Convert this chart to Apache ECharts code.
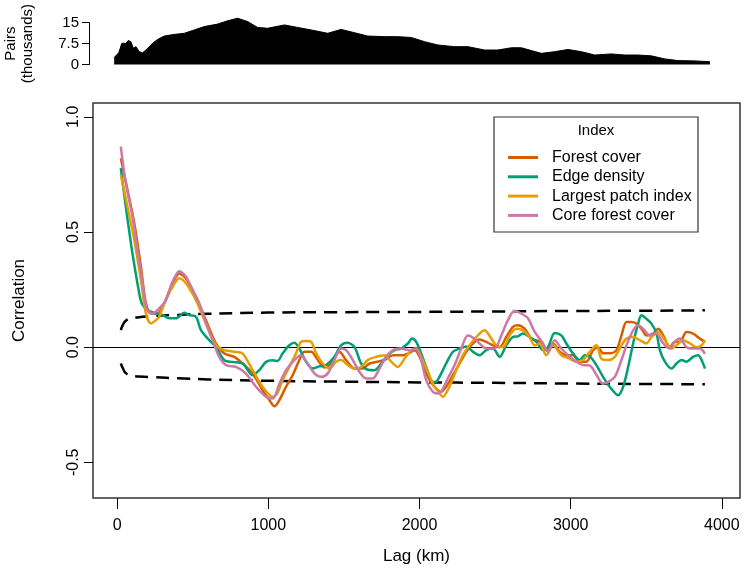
<!DOCTYPE html>
<html>
<head>
<meta charset="utf-8">
<script src="https://cdn.jsdelivr.net/npm/echarts@6/dist/echarts.min.js"></script>
<style>
  html, body { margin: 0; padding: 0; background: #fff; }
  #chart { width: 747px; height: 574px; }
</style>
</head>
<body>
<div id="chart"></div>
<script>
// pairs per distance class (thousands), [lag km, value]
const pairs = [
  [-20, 2.5], [10, 4.2], [20, 5.8], [30, 7.6], [57, 7.6], [73, 8.6], [90, 8.2], [108, 5.8],
  [124, 6.4], [146, 4.6], [168, 4.2], [190, 5.2], [234, 7.6], [267, 9.0], [311, 10.2],
  [377, 10.8], [444, 11.2], [510, 12.4], [576, 13.6], [664, 14.5], [731, 15.7], [797, 16.6],
  [863, 15.4], [929, 13.3], [995, 13.0], [1106, 14.2], [1194, 13.3], [1283, 12.4],
  [1393, 11.2], [1481, 12.6], [1570, 11.4], [1658, 10.2], [1768, 10.0], [1856, 10.0],
  [1945, 9.7], [2033, 8.2], [2121, 7.0], [2232, 6.4], [2320, 6.4], [2430, 5.2], [2519, 5.2],
  [2607, 6.0], [2674, 6.0], [2740, 5.0], [2806, 4.0], [2894, 4.6], [2982, 5.4], [3071, 4.6],
  [3159, 3.4], [3269, 3.8], [3358, 3.4], [3446, 3.4], [3534, 3.1], [3623, 2.0], [3711, 1.4],
  [3821, 1.3], [3921, 1.0]
];

const forestCover = [
  [24, 0.820], [68, 0.683], [113, 0.538], [157, 0.349], [190, 0.19], [223, 0.146], [267, 0.146],
  [311, 0.19], [366, 0.277], [411, 0.32], [455, 0.298], [521, 0.219], [587, 0.117], [653, 0.016],
  [709, -0.028], [775, -0.042], [830, -0.071], [896, -0.115], [962, -0.187], [1007, -0.230],
  [1040, -0.257], [1073, -0.23], [1117, -0.172], [1161, -0.122], [1205, -0.056], [1238, -0.02],
  [1283, -0.02], [1327, -0.056], [1371, -0.088], [1415, -0.071], [1470, -0.02], [1514, -0.056],
  [1570, -0.093], [1625, -0.093], [1669, -0.071], [1768, -0.056], [1824, -0.035], [1890, -0.035],
  [1934, -0.025], [1967, -0.013], [2011, -0.056], [2055, -0.129], [2099, -0.172], [2143, -0.194],
  [2176, -0.172], [2221, -0.122], [2265, -0.071], [2309, -0.02], [2353, 0.016], [2397, 0.033],
  [2441, 0.023], [2486, 0.008], [2530, 0], [2574, 0.044], [2618, 0.088], [2651, 0.095],
  [2695, 0.080], [2740, 0.037], [2795, 0.023], [2839, -0.013], [2883, 0.016], [2927, -0.02],
  [2971, -0.035], [3015, -0.035], [3060, -0.063], [3104, -0.063], [3148, -0.013], [3181, 0],
  [3214, -0.027], [3258, -0.027], [3303, -0.013], [3336, 0.051], [3369, 0.109], [3402, 0.109],
  [3435, 0.102], [3468, 0.080], [3501, 0.051], [3546, 0.059], [3579, 0.080], [3612, 0.051],
  [3656, 0], [3689, 0.023], [3722, 0.023], [3766, 0.066], [3810, 0.059], [3855, 0.037], [3888, 0.023]
];

const edgeDensity = [
  [24, 0.777], [57, 0.61], [101, 0.407], [146, 0.233], [163, 0.19], [201, 0.161], [256, 0.146],
  [300, 0.139], [344, 0.125], [388, 0.125], [444, 0.149], [477, 0.139], [521, 0.132], [554, 0.074],
  [609, 0.030], [653, 0.001], [709, -0.057], [764, -0.064], [830, -0.071], [896, -0.122],
  [940, -0.1], [985, -0.064], [1029, -0.057], [1060, -0.06], [1095, -0.027], [1139, 0.008],
  [1172, 0.019], [1205, -0.006], [1249, -0.063], [1293, -0.093], [1338, -0.083], [1382, -0.078],
  [1437, -0.042], [1481, 0.008], [1525, 0.019], [1570, 0], [1614, -0.071], [1658, -0.098],
  [1702, -0.1], [1746, -0.071], [1790, -0.035], [1835, -0.013], [1879, -0.006], [1923, 0.016],
  [1951, 0.037], [1978, 0.023], [2011, -0.027], [2044, -0.086], [2088, -0.151], [2110, -0.15],
  [2132, -0.129], [2176, -0.071], [2221, -0.02], [2265, -0.006], [2309, 0.003], [2353, -0.02],
  [2397, -0.035], [2441, -0.013], [2486, -0.006], [2530, -0.042], [2574, 0.008], [2618, 0.044],
  [2651, 0.047], [2684, 0.059], [2728, 0.044], [2773, 0.023], [2817, -0.013], [2850, 0],
  [2894, 0.061], [2938, 0.051], [2971, 0.016], [3015, -0.027], [3060, -0.056], [3093, -0.035],
  [3126, -0.04], [3170, -0.078], [3214, -0.129], [3258, -0.172], [3314, -0.209], [3347, -0.172],
  [3380, -0.086], [3413, 0.016], [3446, 0.102], [3468, 0.138], [3501, 0.123], [3534, 0.102],
  [3568, 0.059], [3590, -0.013], [3623, -0.063], [3667, -0.093], [3700, -0.071], [3733, -0.056],
  [3766, -0.063], [3810, -0.042], [3844, -0.035], [3866, -0.056], [3888, -0.093]
];

const largestPatch = [
  [24, 0.748], [68, 0.61], [113, 0.465], [157, 0.291], [190, 0.146], [223, 0.103], [256, 0.117],
  [278, 0.132], [311, 0.19], [366, 0.262], [411, 0.299], [455, 0.277], [521, 0.204], [587, 0.103],
  [653, 0.009], [709, -0.013], [775, -0.02], [830, -0.028], [896, -0.1], [962, -0.172],
  [1029, -0.216], [1060, -0.2], [1095, -0.143], [1139, -0.086], [1183, -0.027], [1216, 0.023],
  [1249, 0.027], [1283, 0.023], [1316, -0.027], [1360, -0.071], [1404, -0.093], [1448, -0.063],
  [1481, -0.056], [1525, -0.078], [1570, -0.093], [1614, -0.086], [1658, -0.056], [1713, -0.042],
  [1768, -0.035], [1813, -0.063], [1857, -0.086], [1901, -0.05], [1945, -0.013], [1978, -0.006],
  [2011, -0.042], [2055, -0.108], [2099, -0.172], [2133, -0.201], [2154, -0.216], [2198, -0.172],
  [2243, -0.10], [2287, -0.035], [2331, 0.008], [2386, 0.051], [2430, 0.073], [2475, 0.037],
  [2508, 0.008], [2552, 0], [2596, 0.051], [2640, 0.080], [2684, 0.073], [2728, 0.044],
  [2762, 0.008], [2795, 0.016], [2839, -0.035], [2883, 0.008], [2938, -0.035], [2993, -0.05],
  [3038, -0.063], [3082, -0.056], [3126, -0.02], [3170, 0.008], [3203, -0.05], [3247, -0.056],
  [3292, -0.042], [3336, 0.008], [3369, 0.037], [3413, 0.044], [3457, 0.030], [3501, 0.016],
  [3534, 0.044], [3579, 0.066], [3623, 0.030], [3667, -0.006], [3700, 0.008], [3744, 0.030],
  [3789, 0.016], [3833, 0], [3866, 0.008], [3888, 0.030]
];

const coreForest = [
  [24, 0.871], [57, 0.712], [101, 0.567], [135, 0.42], [168, 0.277], [194, 0.168], [234, 0.146],
  [278, 0.168], [322, 0.204], [366, 0.284], [411, 0.330], [455, 0.306], [499, 0.248], [543, 0.19],
  [587, 0.103], [631, 0.030], [675, -0.042], [720, -0.078], [786, -0.086], [852, -0.115],
  [918, -0.172], [985, -0.216], [1029, -0.223], [1073, -0.159], [1117, -0.10], [1172, -0.056],
  [1216, -0.035], [1260, -0.071], [1305, -0.114], [1349, -0.129], [1393, -0.114], [1437, -0.056],
  [1481, -0.006], [1514, -0.013], [1559, -0.056], [1603, -0.108], [1647, -0.136], [1691, -0.136],
  [1735, -0.093], [1779, -0.042], [1824, -0.013], [1868, -0.006], [1934, -0.013], [1978, -0.006],
  [2011, -0.056], [2044, -0.143], [2088, -0.194], [2121, -0.201], [2143, -0.194], [2187, -0.136],
  [2232, -0.078], [2276, -0.006], [2320, 0.051], [2364, 0.037], [2397, 0.016], [2441, -0.006],
  [2497, -0.006], [2541, 0.051], [2585, 0.117], [2629, 0.158], [2673, 0.146], [2717, 0.125],
  [2762, 0.066], [2817, 0.016], [2850, -0.02], [2894, 0.030], [2938, -0.006], [2993, -0.042],
  [3038, -0.063], [3082, -0.078], [3126, -0.08], [3170, -0.12], [3214, -0.159], [3247, -0.151],
  [3292, -0.129], [3336, -0.056], [3369, 0.008], [3413, 0.073], [3446, 0.095], [3479, 0.080],
  [3523, 0.051], [3568, 0.059], [3612, 0.016], [3656, -0.006], [3689, 0.023], [3722, 0.037],
  [3766, 0], [3810, -0.006], [3855, -0.006], [3888, -0.029]
];

// null envelope (dashed)
const envLag = [24, 40, 57, 90, 145, 250, 400, 600, 1000, 1500, 2000, 2500, 3000, 3500, 3888];
const envUpper = [0.074, 0.100, 0.115, 0.125, 0.130, 0.136, 0.140, 0.145, 0.150, 0.152, 0.153, 0.155, 0.157, 0.158, 0.160];
const envLower = [-0.071, -0.095, -0.113, -0.123, -0.128, -0.131, -0.135, -0.140, -0.146, -0.150, -0.153, -0.155, -0.158, -0.160, -0.161];

const lagTicks = [0, 1000, 2000, 3000, 4000];
const corTicks = [-0.5, 0, 0.5, 1];
const pairTicks = [0, 7.5, 15];

const names = ["Forest cover", "Edge density", "Largest patch index", "Core forest cover"];
const colors = ["#D55E00", "#009E73", "#E69F00", "#CC79A7"];
const values = [forestCover, edgeDensity, largestPatch, coreForest];

const font = "Liberation Sans, Arial, sans-serif";

const chart = echarts.init(document.getElementById("chart"));

const lineSeries = names.map((n, i) => ({
  name: n,
  type: "line",
  xAxisIndex: 1,
  yAxisIndex: 1,
  data: values[i],
  symbol: "none",
  smooth: 0.3,
  z: 5,
  lineStyle: { color: colors[i], width: 2.5 },
  itemStyle: { color: colors[i] },
}));

const dashed = (arr) => ({
  type: "line",
  xAxisIndex: 1,
  yAxisIndex: 1,
  data: envLag.map((x, i) => [x, arr[i]]),
  symbol: "none",
  smooth: true,
  silent: true,
  z: 4,
  lineStyle: { color: "#000", width: 2.5, type: [13, 8] },
});

chart.setOption({
  backgroundColor: "#fff",
  animation: false,
  textStyle: { fontFamily: font, color: "#000" },
  grid: [
    { left: 93, right: 7, top: 22.7, height: 41.8, outerBoundsMode: "none" },
    {
      left: 93, right: 7, top: 103, bottom: 76, outerBoundsMode: "none",
      show: true, borderColor: "#333", borderWidth: 1.5,
    },
  ],
  xAxis: [
    {
      gridIndex: 0, type: "value", min: -160, max: 4120,
      show: false,
    },
    {
      gridIndex: 1, type: "value", min: -160, max: 4120,
      name: "Lag (km)", nameLocation: "middle", nameGap: 50,
      nameTextStyle: { fontSize: 17, fontFamily: font, color: "#000" },
      axisLine: { show: false, onZero: false },
      splitLine: { show: false },
      axisTick: { show: true, length: 11, lineStyle: { color: "#000" }, customValues: lagTicks },
      axisLabel: {
        fontSize: 16, color: "#000", margin: 20, customValues: lagTicks,
        formatter: (v) => String(v),
      },
    },
  ],
  yAxis: [
    {
      gridIndex: 0, type: "value", min: 0, max: 15, offset: 4,
      name: "Pairs\n(thousands)", nameLocation: "middle", nameGap: 53, nameRotate: 90,
      nameTextStyle: { fontSize: 15, fontFamily: font, color: "#000", lineHeight: 17 },
      axisLine: { show: true, onZero: false, lineStyle: { color: "#000", width: 1 } },
      splitLine: { show: false },
      axisTick: { show: true, length: 7, lineStyle: { color: "#000" }, customValues: pairTicks },
      axisLabel: { fontSize: 15, color: "#000", margin: 10, customValues: pairTicks },
    },
    {
      gridIndex: 1, type: "value", min: -0.655, max: 1.06,
      name: "Correlation", nameLocation: "middle", nameGap: 65, nameRotate: 90,
      nameTextStyle: { fontSize: 17, fontFamily: font, color: "#000" },
      axisLine: { show: false, onZero: false },
      splitLine: { show: false },
      axisTick: { show: true, length: 9, lineStyle: { color: "#000" }, customValues: corTicks },
      axisLabel: {
        fontSize: 16, color: "#000", margin: 11, rotate: 90,
        customValues: corTicks,
        formatter: (v) => v.toFixed(1),
      },
    },
  ],
  legend: {
    data: names,
    orient: "vertical",
    left: 508,
    top: 149.5,
    padding: 0,
    icon: "rect",
    itemWidth: 30,
    itemHeight: 3,
    itemGap: 3.3,
    textStyle: { fontSize: 16, color: "#000", fontFamily: font, padding: [0, 0, 0, 9] },
  },
  graphic: [
    {
      type: "rect",
      shape: { x: 494, y: 117, width: 204, height: 115 },
      style: { fill: "none", stroke: "#333", lineWidth: 1.2 },
      silent: true,
    },
    {
      type: "text",
      x: 596, y: 131,
      style: { text: "Index", font: "15px " + font, fill: "#000", align: "center", verticalAlign: "middle" },
      silent: true,
    },
  ],
  series: [
    {
      name: "Pairs",
      type: "line",
      xAxisIndex: 0,
      yAxisIndex: 0,
      data: pairs,
      symbol: "none",
      clip: false,
      silent: true,
      lineStyle: { color: "#000", width: 1 },
      areaStyle: { color: "#000", opacity: 1, origin: "start" },
    },
    {
      type: "line",
      xAxisIndex: 1,
      yAxisIndex: 1,
      data: [],
      silent: true,
      markLine: {
        silent: true,
        symbol: "none",
        label: { show: false },
        lineStyle: { color: "#000", width: 1, type: "solid" },
        data: [{ yAxis: 0 }],
      },
    },
    dashed(envUpper),
    dashed(envLower),
    ...lineSeries,
  ],
});
</script>
</body>
</html>
